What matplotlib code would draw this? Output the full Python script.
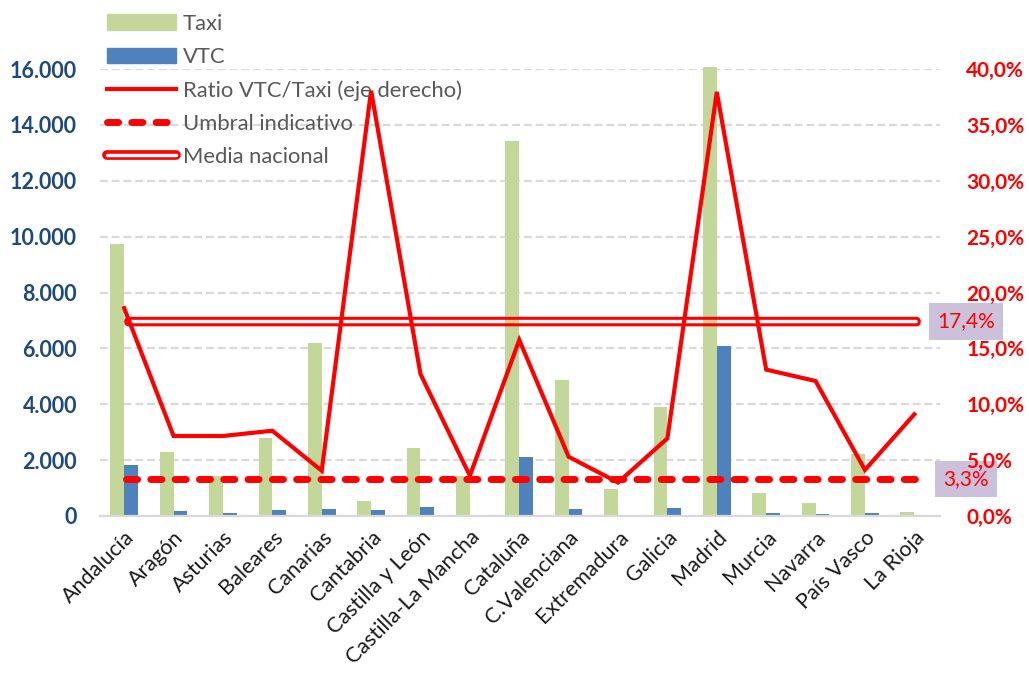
import matplotlib
matplotlib.use("Agg")
import matplotlib.pyplot as plt
import matplotlib.patheffects as pe
import numpy as np
from matplotlib.lines import Line2D
from matplotlib.patches import Patch, FancyBboxPatch
from matplotlib.transforms import IdentityTransform

regions = ["Andalucía", "Aragón", "Asturias", "Baleares", "Canarias", "Cantabria",
           "Castilla y León", "Castilla-La Mancha", "Cataluña", "C.Valenciana",
           "Extremadura", "Galicia", "Madrid", "Murcia", "Navarra", "País Vasco",
           "La Rioja"]
taxi = [9730, 2300, 1430, 2780, 6180, 530, 2430, 1420, 13420, 4880,
        970, 3910, 16080, 830, 455, 2220, 155]
vtc = [1810, 165, 102, 212, 250, 200, 310, 51, 2120, 259,
       29, 272, 6100, 109, 55, 91, 14]
ratio = [18.6, 7.16, 7.16, 7.63, 4.05, 38.06, 12.7, 3.6, 15.75, 5.3,
         3.0, 6.95, 37.95, 13.1, 12.08, 4.12, 9.1]
umbral = 3.3
media = 17.4

left_ticks = list(range(0, 16001, 2000))
right_ticks = [0, 5, 10, 15, 20, 25, 30, 35, 40]

TAXI_C = "#C4D79B"
VTC_C = "#4F81BD"
RED = "#FF0000"
GRID_C = "#D9D9D9"
BOX_C = "#CCC1DA"

plt.rcParams["font.family"] = ["Lato", "DejaVu Sans"]

W, H = 1029, 673
fig = plt.figure(figsize=(W / 100, H / 100), dpi=100)
ax = fig.add_axes([100 / W, 1 - 516 / H, 840 / W, 447 / H])
ax2 = ax.twinx()

x = np.arange(len(regions))
bw = 0.28
ax.bar(x - bw, taxi, bw, align="edge", color=TAXI_C, zorder=2, clip_on=False)
ax.bar(x, vtc, bw, align="edge", color=VTC_C, zorder=2, clip_on=False)

ax.set_xlim(-0.49, 16.52)
ax.set_ylim(0, 16000)
ax2.set_ylim(0, 40)

ax.yaxis.grid(True, color=GRID_C, lw=1.6, linestyle=(0, (3.5, 1.8)), zorder=0)
ax.set_axisbelow(True)
for a in (ax, ax2):
    for s in a.spines.values():
        s.set_visible(False)
ax.spines["bottom"].set_visible(True)
ax.spines["bottom"].set_color(GRID_C)
ax.spines["bottom"].set_linewidth(1.6)

ax.set_yticks(left_ticks, [f"{v:,.0f}".replace(",", ".") for v in left_ticks],
              fontweight="bold", color="#1F497D", fontsize=15.5)
ax.tick_params(axis="y", length=0, pad=16.5)
ax2.set_yticks(right_ticks, [f"{v:.1f}%".replace(".", ",") for v in right_ticks],
               fontweight="bold", color=RED, fontsize=15)
ax2.tick_params(axis="y", length=0, pad=19)

ax.set_xticks(x, regions, rotation=45, ha="right", rotation_mode="anchor",
              fontsize=15.5, color="#1A1A1A")
ax.tick_params(axis="x", length=0, pad=8)

# lines on the right (percent) axis
ax2.plot(x, ratio, color=RED, lw=3, solid_joinstyle="miter", zorder=4)
ax2.plot([0.03, 16.1], [umbral, umbral], color=RED, lw=5,
         dashes=(1.6, 1.9), dash_capstyle="round", zorder=5)

# media nacional: double red line with rounded ends (outline only)
p0 = ax2.transData.transform((0.03, media))
p1 = ax2.transData.transform((16.1, media))
h = 6.5
fig.add_artist(FancyBboxPatch((p0[0], p0[1] - h / 2), p1[0] - p0[0], h,
                              boxstyle=f"round,pad=0,rounding_size={h / 2}",
                              transform=IdentityTransform(), fill=False,
                              edgecolor=RED, lw=2.2, zorder=5))

# value boxes
for val in (media, umbral):
    ax.text(17.05, val * 400, f"{val:.1f}%".replace(".", ","), color=RED,
            fontsize=15, ha="center", va="center", clip_on=False, zorder=1,
            bbox=dict(boxstyle="square,pad=0.4", fc=BOX_C, ec="none"))

media_handle = Line2D([], [], color="white", lw=2.5, solid_capstyle="round",
                      path_effects=[pe.Stroke(linewidth=7, foreground=RED, capstyle="round"),
                                    pe.Normal()])
handles = [
    Patch(color=TAXI_C),
    Patch(color=VTC_C),
    Line2D([], [], color=RED, lw=3),
    Line2D([], [], color=RED, lw=5, dashes=(1.6, 1.9), dash_capstyle="round"),
    media_handle,
]
labels = ["Taxi", "VTC", "Ratio VTC/Taxi (eje derecho)", "Umbral indicativo",
          "Media nacional"]
fig.legend(handles, labels, loc="upper left", bbox_to_anchor=(98 / W, 1 - 5 / H),
           frameon=False, fontsize=15.8, labelcolor="#595959", handlelength=3.15,
           handletextpad=0.32, labelspacing=0.6, borderaxespad=0)

fig.savefig("out.png", dpi=100)
